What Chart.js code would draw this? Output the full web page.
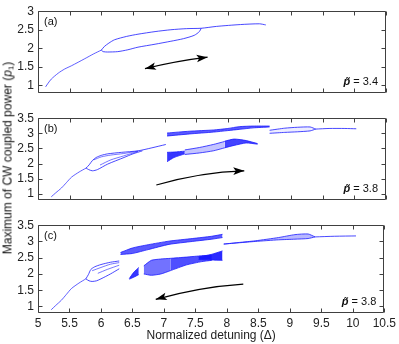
<!DOCTYPE html>
<html>
<head>
<meta charset="utf-8">
<script src="https://cdn.jsdelivr.net/npm/chart.js@4/dist/chart.umd.min.js"></script>
<style>
  body { margin: 0; background: #fff; width: 399px; height: 344px; overflow: hidden; position: relative;
         font-family: "Liberation Sans", Arial, sans-serif; }
  .panel { position: absolute; left: 0; width: 399px; }
  #ytitle { position: absolute; left: 8px; top: 158px; transform: translate(-50%, -50%) rotate(-90deg);
            white-space: nowrap; font-size: 12px; color: #111; }
  #ytitle sub { font-size: 8px; vertical-align: -2px; }
</style>
</head>
<body>
<div class="panel" style="top:0;height:104px"><canvas id="pa"></canvas></div>
<div class="panel" style="top:107px;height:104px"><canvas id="pb"></canvas></div>
<div class="panel" style="top:214px;height:130px"><canvas id="pc"></canvas></div>
<div id="ytitle">Maximum of CW coupled power (<i>p</i><sub>1</sub>)</div>
<script>
// axis ticks
const xTicks = [5, 5.5, 6, 6.5, 7, 7.5, 8, 8.5, 9, 9.5, 10, 10.5];
const yTicksA = [1, 1.5, 2, 2.5, 3];
const yTicksBC = [1, 1.5, 2, 2.5, 3, 3.5];

// panel (a), p = 3.4
const aTrunk = [[5.12,0.96],[5.16,1.06],[5.21,1.17],[5.32,1.33],[5.42,1.44],[5.53,1.53],[5.74,1.72],[5.88,1.85],[6.0,1.95]];
const aUpper = [[6.0,1.95],[6.05,2.05],[6.12,2.14],[6.21,2.23],[6.4,2.32],[6.58,2.38],[6.85,2.45],[7.1,2.5],[7.35,2.53],[7.58,2.54],[7.82,2.59],[8.2,2.64],[8.5,2.66],[8.6,2.63]];
const aLower = [[6.0,1.95],[6.03,1.91],[6.1,1.9],[6.26,1.91],[6.42,1.96],[6.58,2.03],[6.85,2.11],[7.1,2.19],[7.3,2.26],[7.47,2.35],[7.55,2.45],[7.58,2.54]];

// panel (b), p = 3.8, forward sweep
const bTrunk = [[5.21,0.9],[5.28,1.03],[5.37,1.19],[5.45,1.37],[5.53,1.55],[5.65,1.72],[5.76,1.85]];
const bUpper = [[5.76,1.85],[5.81,1.96],[5.86,2.1],[5.92,2.2],[6.0,2.27],[6.1,2.32],[6.32,2.37],[6.58,2.42],[6.8,2.52],[7.02,2.63]];
const bLower = [[5.76,1.85],[5.8,1.8],[5.86,1.76],[5.94,1.8],[6.1,1.98],[6.36,2.2],[6.5,2.32],[6.65,2.42]];
const bInner1 = [[5.88,2.12],[6.0,2.22],[6.15,2.28],[6.35,2.33],[6.58,2.41]];
const bInner2 = [[5.98,1.95],[6.15,2.12],[6.35,2.25],[6.58,2.4]];
const bBand1X = [7.04, 7.4, 7.77, 8.0, 8.18, 8.4, 8.66];
const bBand1Top = [3.01, 3.07, 3.11, 3.16, 3.22, 3.24, 3.24];
const bBand1Bot = [2.91, 2.98, 3.04, 3.09, 3.13, 3.18, 3.21];
const bWedgeX = [7.04, 7.15, 7.32];
const bWedgeTop = [2.37, 2.38, 2.41];
const bWedgeBot = [2.06, 2.2, 2.32];
const bMidX = [7.32, 7.55, 7.77, 7.95];
const bMidTop = [2.45, 2.53, 2.63, 2.73];
const bMidBot = [2.3, 2.35, 2.42, 2.52];
const bBlobX = [7.95, 8.1, 8.29, 8.47];
const bBlobTop = [2.74, 2.81, 2.76, 2.66];
const bBlobBot = [2.52, 2.6, 2.68, 2.64];
const bRightX = [8.66, 8.9, 9.1, 9.3, 9.39];
const bRightTop = [3.1, 3.17, 3.2, 3.21, 3.14];
const bRightBot = [3.0, 3.03, 3.05, 3.08, 3.14];
const bTail = [[9.39,3.14],[9.6,3.16],[9.85,3.16],[10.03,3.15]];

// panel (c), p = 3.8, backward sweep
const cTrunk = [[5.21,0.9],[5.28,1.03],[5.37,1.19],[5.45,1.37],[5.53,1.55],[5.65,1.72],[5.76,1.85]];
const cUpper = [[5.76,1.85],[5.8,1.98],[5.84,2.14],[5.9,2.22],[6.0,2.29],[6.15,2.36],[6.29,2.4]];
const cLower = [[5.76,1.85],[5.81,1.79],[5.86,1.77],[5.93,1.79],[6.0,1.85],[6.15,2.0],[6.29,2.16]];
const cInner1 = [[5.86,2.1],[6.0,2.2],[6.15,2.3],[6.29,2.35]];
const cInner2 = [[5.95,2.02],[6.1,2.14],[6.29,2.27]];
const cBand1X = [6.31, 6.5, 6.75, 7.08, 7.45, 7.76, 7.93];
const cBand1Top = [2.66, 2.8, 2.9, 3.01, 3.09, 3.16, 3.22];
const cBand1Bot = [2.6, 2.63, 2.75, 2.91, 3.0, 3.07, 3.12];
const cBand2X = [6.45, 6.52, 6.6];
const cBand2Top = [1.86, 2.05, 2.2];
const cBand2Bot = [1.84, 1.9, 1.98];
const cBand3X = [6.68, 6.8, 6.95, 7.1];
const cBand3Top = [2.25, 2.42, 2.46, 2.48];
const cBand3Bot = [2.0, 1.96, 2.0, 2.1];
const cBand5X = [7.1, 7.36, 7.6, 7.76];
const cBand5Top = [2.48, 2.52, 2.56, 2.58];
const cBand5Bot = [2.1, 2.28, 2.38, 2.42];
const cBand4X = [7.55, 7.75, 7.93];
const cBand4Top = [2.52, 2.6, 2.71];
const cBand4Bot = [2.45, 2.43, 2.42];
const cRightX = [7.95, 8.2, 8.45, 8.82, 9.08, 9.29, 9.4];
const cRightTop = [2.92, 2.97, 3.02, 3.12, 3.21, 3.23, 3.14];
const cRightBot = [2.92, 2.96, 3.0, 3.05, 3.07, 3.09, 3.14];
const cTail = [[9.4,3.14],[9.71,3.16],[10.05,3.17]];

// sweep arrows: start, bend, end (data units)
const arrowA = [[6.69,1.45],[7.18,1.655],[7.68,1.76]];
const arrowB = [[6.87,1.29],[7.57,1.72],[8.26,1.76]];
const arrowC = [[8.26,1.69],[7.565,1.6],[6.87,1.22]];

const BLUE = '#1a1aff';
const FONT = '"Liberation Sans", Arial, sans-serif';

function curve(pts, w) {
  return {
    data: pts.map(([x, y]) => ({ x, y })),
    showLine: true, pointRadius: 0, borderColor: BLUE,
    borderWidth: w || 0.8, fill: false, tension: 0.25
  };
}

function band(xs, top, bot, alpha) {
  const base = { showLine: true, pointRadius: 0, borderColor: BLUE, borderWidth: 0.8, tension: 0.2 };
  return [
    { ...base, data: xs.map((x, i) => ({ x, y: top[i] })), fill: false },
    { ...base, data: xs.map((x, i) => ({ x, y: bot[i] })), fill: '-1',
      backgroundColor: 'rgba(20,20,255,' + alpha + ')' }
  ];
}

function drawHead(ctx, tip, from) {
  const ang = Math.atan2(tip[1] - from[1], tip[0] - from[0]);
  ctx.save();
  ctx.translate(tip[0], tip[1]);
  ctx.rotate(ang);
  ctx.beginPath();
  ctx.moveTo(0, 0);
  ctx.lineTo(-11, -3.8);
  ctx.lineTo(-8.5, 0);
  ctx.lineTo(-11, 3.8);
  ctx.closePath();
  ctx.fill();
  ctx.restore();
}

const decor = {
  id: 'decor',
  afterDatasetsDraw(chart, args, opts) {
    const { ctx, chartArea: a, scales: { x, y } } = chart;
    ctx.save();
    // box with inward ticks
    const L = Math.round(a.left) + 0.5, R = Math.round(a.right) - 0.5;
    const T = Math.round(a.top) + 0.5, B = Math.round(a.bottom) - 0.5;
    ctx.strokeStyle = '#404040';
    ctx.lineWidth = 1;
    ctx.beginPath();
    ctx.rect(L, T, R - L, B - T);
    x.ticks.forEach(t => {
      const px = Math.round(x.getPixelForValue(t.value)) + 0.5;
      ctx.moveTo(px, B); ctx.lineTo(px, B - 4);
      ctx.moveTo(px, T); ctx.lineTo(px, T + 4);
    });
    y.ticks.forEach(t => {
      const py = Math.round(y.getPixelForValue(t.value)) + 0.5;
      ctx.moveTo(L, py); ctx.lineTo(L + 4, py);
      ctx.moveTo(R, py); ctx.lineTo(R - 4, py);
    });
    ctx.stroke();

    // arrow
    const p = opts.arrow.map(([dx, dy]) => [x.getPixelForValue(dx), y.getPixelForValue(dy)]);
    ctx.strokeStyle = '#000';
    ctx.fillStyle = '#000';
    ctx.lineWidth = 1.2;
    ctx.beginPath();
    ctx.moveTo(p[0][0], p[0][1]);
    ctx.quadraticCurveTo(p[1][0], p[1][1], p[2][0], p[2][1]);
    ctx.stroke();
    drawHead(ctx, p[2], p[1]);
    if (opts.both) drawHead(ctx, p[0], p[1]);

    // labels
    ctx.fillStyle = '#111';
    ctx.font = '11px ' + FONT;
    ctx.textAlign = 'left';
    ctx.textBaseline = 'middle';
    ctx.fillText(opts.letter, a.left + 6, a.top + 11);
    ctx.textAlign = 'right';
    ctx.textBaseline = 'alphabetic';
    const rest = ' = ' + opts.p;
    const w = ctx.measureText(rest).width;
    ctx.fillText(rest, a.right - 8, a.bottom - 8);
    ctx.font = 'italic bold 11px ' + FONT;
    ctx.fillText('p\u0303', a.right - 8 - w, a.bottom - 8);
    ctx.restore();
  }
};

function scales(yMax, yTicks, showX) {
  return {
    x: {
      type: 'linear', min: 5, max: 10.5,
      afterBuildTicks: s => { s.ticks = xTicks.map(v => ({ value: v })); },
      grid: { display: false, drawTicks: false },
      border: { display: false },
      ticks: { display: showX, padding: 3, color: '#222', maxRotation: 0, autoSkip: false,
               font: { family: FONT, size: 12 }, callback: v => String(v) },
      title: { display: showX, text: 'Normalized detuning (\u0394)', color: '#222',
               font: { family: FONT, size: 12 }, padding: { top: 0, bottom: 1 } },
      afterFit: s => { s.height = showX ? 31 : 5; }
    },
    y: {
      type: 'linear', min: 0.8, max: yMax,
      afterBuildTicks: s => { s.ticks = yTicks.map(v => ({ value: v })); },
      grid: { display: false, drawTicks: false },
      border: { display: false },
      ticks: { padding: 4, color: '#222', autoSkip: false,
               font: { family: FONT, size: 12 }, callback: v => String(v) },
      afterFit: s => { s.width = 38; }
    }
  };
}

function makeChart(id, datasets, yMax, yTicks, showX, deco) {
  return new Chart(document.getElementById(id), {
    type: 'scatter',
    data: { datasets },
    options: {
      responsive: true,
      maintainAspectRatio: false,
      animation: false,
      layout: { padding: { top: 5, right: 13, left: 0, bottom: 0 } },
      scales: scales(yMax, yTicks, showX),
      plugins: { legend: { display: false }, tooltip: { enabled: false }, decor: deco }
    },
    plugins: [decor]
  });
}

makeChart('pa', [curve(aTrunk, 0.7), curve(aUpper), curve(aLower)],
  3, yTicksA, false, { letter: '(a)', p: '3.4', arrow: arrowA, both: true });

makeChart('pb', [
  curve(bTrunk, 0.7), curve(bUpper), curve(bLower), curve(bInner1, 0.6), curve(bInner2, 0.6),
  ...band(bBand1X, bBand1Top, bBand1Bot, 0.7),
  ...band(bWedgeX, bWedgeTop, bWedgeBot, 0.85),
  ...band(bMidX, bMidTop, bMidBot, 0.25),
  ...band(bBlobX, bBlobTop, bBlobBot, 0.8),
  ...band(bRightX, bRightTop, bRightBot, 0.08),
  curve(bTail)
], 3.5, yTicksBC, false, { letter: '(b)', p: '3.8', arrow: arrowB, both: false });

makeChart('pc', [
  curve(cTrunk, 0.7), curve(cUpper), curve(cLower), curve(cInner1, 0.6), curve(cInner2, 0.6),
  ...band(cBand1X, cBand1Top, cBand1Bot, 0.7),
  ...band(cBand2X, cBand2Top, cBand2Bot, 0.85),
  ...band(cBand3X, cBand3Top, cBand3Bot, 0.6),
  ...band(cBand5X, cBand5Top, cBand5Bot, 0.75),
  ...band(cBand4X, cBand4Top, cBand4Bot, 0.9),
  ...band(cRightX, cRightTop, cRightBot, 0.3),
  curve(cTail)
], 3.5, yTicksBC, true, { letter: '(c)', p: '3.8', arrow: arrowC, both: false });
</script>
</body>
</html>
